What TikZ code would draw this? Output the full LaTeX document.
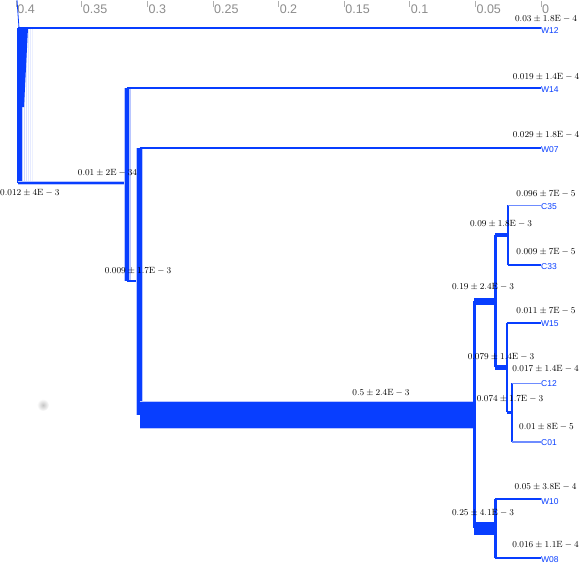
\documentclass[tikz,border=0pt]{standalone}
\usepackage{fontspec}
\newfontfamily\axfont{Liberation Sans}
\definecolor{treeblue}{RGB}{8,62,255}
\definecolor{lightblue}{RGB}{110,140,255}
\definecolor{haloblue}{RGB}{185,198,255}
\definecolor{axgray}{RGB}{140,140,140}
\begin{document}
\begin{tikzpicture}[x=1pt,y=-1pt,line cap=butt,
  val/.style={font=\fontsize{9}{10}\selectfont, inner sep=0pt, text=black},
  leafname/.style={font=\axfont\fontsize{8.5}{9}\selectfont, text=treeblue, inner sep=0pt, anchor=west},
  tickmark/.style={draw=axgray!70, line width=0.6pt},
  ticklab/.style={font=\axfont\fontsize{12.5}{13}\selectfont, text=axgray, anchor=base west, inner sep=0pt, text depth=0pt},
  br/.style={draw=treeblue, line width=#1},
  lbr/.style={draw=lightblue, line width=#1},
  halo/.style={draw=haloblue, line width=#1}]
\useasboundingbox (0,0) rectangle (580,565);
% axis
\foreach \v/\t [count=\i] in {0.4/0.4,0.35/0.35,0.3/0.3,0.25/0.25,0.2/0.2,0.15/0.15,0.1/0.1,0.05/0.05,0/0}{
  \coordinate (tk\i) at ({541-1312*\v},1);
  \draw[tickmark] (tk\i) -- ++(0,6);
  \node[ticklab] (tl\i) at ({541-1312*\v+1},13) {\t};
}
% faint spot
\shade[inner color=gray!45, outer color=white] (43,405) circle (6);
% coordinates
\coordinate (R) at (18,105);
\coordinate (W12) at (541,28);
\coordinate (A) at (127,183);
\coordinate (W14) at (541,88);
\coordinate (B) at (139.5,281);
\coordinate (W07) at (541,148);
\coordinate (C) at (474,415);
\coordinate (D) at (495,301);
\coordinate (E) at (508,235);
\coordinate (C35) at (541,205);
\coordinate (C33) at (541,265);
\coordinate (F) at (507,367);
\coordinate (W15) at (541,323);
\coordinate (G) at (512,412);
\coordinate (C12) at (541,383);
\coordinate (C01) at (541,442);
\coordinate (H) at (495,528);
\coordinate (W10) at (541,499);
\coordinate (W08) at (541,558);
\coordinate (top) at (17,0);
% root
\draw[br=0.8] (top) -- (19,28);
\foreach \dx/\op in {4/0.25,6/0.2,8/0.15,10/0.12,12/0.1,14/0.08}{
  \draw[treeblue, opacity=\op, line width=0.8] ([xshift=\dx]R |- W12) -- ([xshift=\dx]R |- A);
}
\fill[treeblue] (17,28) -- (28,28) -- (24,107) -- (17,107) -- cycle;
\draw[br=5] ([xshift=1.5]R |- W12) -- ([xshift=1.5]R |- A);
\draw[br=2] (R |- W12) -- (W12);
\draw[halo=3.5] (R |- A) -- (A);
\draw[br=1.5] (R |- A) -- (A);
% A
\draw[halo=7] (A |- W14) -- (A |- B);
\draw[br=4.5] (A |- W14) -- (A |- B);
\draw[br=2] (A |- W14) -- (W14);
\draw[br=2] (A |- B) -- (B);
% B
\draw[halo=7] (B |- W07) -- (B |- C);
\draw[br=4.5] (B |- W07) -- (B |- C);
\draw[br=2] (B |- W07) -- (W07);
\draw[halo=27.5] (B |- C) -- (C);
\draw[br=26] (B |- C) -- (C);
% C
\draw[br=3] (C |- D) -- (C |- H);
\draw[br=7] (C |- D) -- (D);
\draw[br=13] (C |- H) -- (H);
% D
\draw[br=3] (D |- E) -- (D |- F);
\draw[br=4] (D |- E) -- (E);
\draw[br=5] (D |- F) -- (F);
% E
\draw[br=2.5] (E |- C35) -- (E |- C33);
\draw[lbr=1] (E |- C35) -- (C35);
\draw[br=1.5] (E |- C33) -- (C33);
% F
\draw[br=2.5] (F |- W15) -- (F |- G);
\draw[br=1.3] (F |- W15) -- (W15);
\draw[br=3] (F |- G) -- (G);
% G
\draw[br=2.5] (G |- C12) -- (G |- C01);
\draw[lbr=1] (G |- C12) -- (C12);
\draw[lbr=1.2] (G |- C01) -- (C01);
% H
\draw[br=3] (H |- W10) -- (H |- W08);
\draw[br=2.5] (H |- W10) -- (W10);
\draw[br=2] (H |- W08) -- (W08);
% leaf names
\node[leafname] (nW12) at ([yshift=-2.5]W12) {W12};
\node[leafname] (nW14) at ([yshift=-2]W14) {W14};
\node[leafname] (nW07) at ([yshift=-2]W07) {W07};
\node[leafname] (nC35) at ([yshift=-2]C35) {C35};
\node[leafname] (nC33) at ([yshift=-1.5]C33) {C33};
\node[leafname] (nW15) at ([yshift=-0.5]W15) {W15};
\node[leafname] (nC12) at ([yshift=-1]C12) {C12};
\node[leafname] (nC01) at ([yshift=-1]C01) {C01};
\node[leafname] (nW10) at ([yshift=-2.5]W10) {W10};
\node[leafname] (nW08) at ([yshift=-2]W08) {W08};
% leaf values
\node[val] (vW12) at (546,19) {$0.03\pm1.8\mathrm{E}-4$};
\node[val] (vW14) at (546,77) {$0.019\pm1.4\mathrm{E}-4$};
\node[val] (vW07) at (546,135) {$0.029\pm1.8\mathrm{E}-4$};
\node[val] (vC35) at (546,193.5) {$0.096\pm7\mathrm{E}-5$};
\node[val] (vC33) at (546,252) {$0.009\pm7\mathrm{E}-5$};
\node[val] (vW15) at (546,311) {$0.011\pm7\mathrm{E}-5$};
\node[val] (vC12) at (545.5,369) {$0.017\pm1.4\mathrm{E}-4$};
\node[val] (vC01) at (546.5,427) {$0.01\pm8\mathrm{E}-5$};
\node[val] (vW10) at (545.5,487) {$0.05\pm3.8\mathrm{E}-4$};
\node[val] (vW08) at (545.5,545) {$0.016\pm1.1\mathrm{E}-4$};
% internal values
\node[val, anchor=west] (vR) at (0,193) {$0.012\pm4\mathrm{E}-3$};
\node[val] (vA) at (107.5,173) {$0.01\pm2\mathrm{E}-34$};
\node[val] (vB) at (138,271) {$0.009\pm1.7\mathrm{E}-3$};
\node[val] (vC) at (381,393) {$0.5\pm2.4\mathrm{E}-3$};
\node[val] (vD) at (483,287) {$0.19\pm2.4\mathrm{E}-3$};
\node[val] (vE) at (501,224) {$0.09\pm1.8\mathrm{E}-3$};
\node[val] (vF) at (501,357) {$0.079\pm1.4\mathrm{E}-3$};
\node[val] (vG) at (510,399) {$0.074\pm1.7\mathrm{E}-3$};
\node[val] (vH) at (483,513) {$0.25\pm4.1\mathrm{E}-3$};
\end{tikzpicture}
\end{document}
